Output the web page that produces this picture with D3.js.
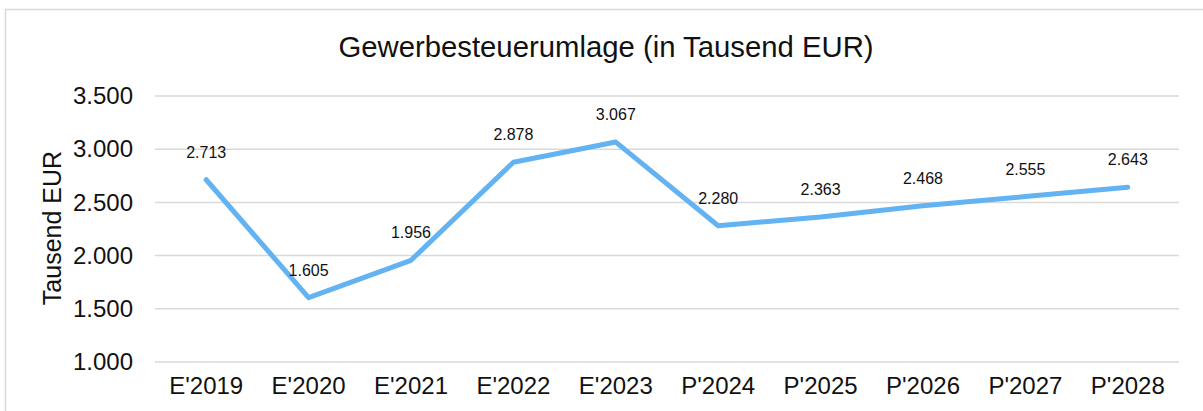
<!DOCTYPE html>
<html>
<head>
<meta charset="utf-8">
<script src="https://cdn.jsdelivr.net/npm/d3@7"></script>
<style>
  body { margin: 0; background: #fff; }
  text { font-family: "Liberation Sans", Arial, sans-serif; }
</style>
</head>
<body>
<svg id="chart" width="1203" height="411"></svg>
<script>
// data
const categories = ["E'2019", "E'2020", "E'2021", "E'2022", "E'2023", "P'2024", "P'2025", "P'2026", "P'2027", "P'2028"];
const values = [2713, 1605, 1956, 2878, 3067, 2280, 2363, 2468, 2555, 2643];
const yTicks = [1000, 1500, 2000, 2500, 3000, 3500];

const chartTitle = "Gewerbesteuerumlage (in Tausend EUR)";
const yTitle = "Tausend EUR";

const svg = d3.select("#chart");
const margin = {top: 96, right: 24, bottom: 49, left: 155};
const width = 1203, height = 411;

const fmt = d3.formatLocale({decimal: ",", thousands: ".", grouping: [3], currency: ["", " €"]}).format(",.0f");

// chart border
svg.append("rect")
  .attr("x", 5.5).attr("y", 9.5)
  .attr("width", 1205).attr("height", 420)
  .attr("fill", "#fff")
  .attr("stroke", "#d9d9d9")
  .attr("stroke-width", 1.5);

const x = d3.scaleBand(categories, [margin.left, width - margin.right]);
const y = d3.scaleLinear([1000, 3500], [height - margin.bottom, margin.top]);

// gridlines
svg.append("g")
  .selectAll("line")
  .data(yTicks)
  .join("line")
    .attr("x1", margin.left)
    .attr("x2", width - margin.right)
    .attr("y1", d => y(d))
    .attr("y2", d => y(d))
    .attr("stroke", "#d9d9d9")
    .attr("stroke-width", 1.5);

// y axis labels
const yAxis = svg.append("g")
  .attr("transform", `translate(${margin.left - 22},0)`)
  .call(d3.axisLeft(y).tickValues(yTicks).tickFormat(fmt).tickSize(0).tickPadding(0));
yAxis.select(".domain").remove();
yAxis.selectAll("text")
  .attr("font-size", 24)
  .attr("font-family", "Liberation Sans, Arial, sans-serif")
  .attr("fill", "#111");

// x axis labels
const xAxis = svg.append("g")
  .attr("transform", `translate(0,${height - margin.bottom})`)
  .call(d3.axisBottom(x).tickSize(0).tickPadding(15));
xAxis.select(".domain").remove();
xAxis.selectAll("text")
  .attr("font-size", 24)
  .attr("font-family", "Liberation Sans, Arial, sans-serif")
  .attr("fill", "#111");

// line
const line = d3.line()
  .x((d, i) => x(categories[i]) + x.bandwidth() / 2)
  .y(d => y(d));

svg.append("path")
  .datum(values)
  .attr("fill", "none")
  .attr("stroke", "#63b3f2")
  .attr("stroke-width", 5)
  .attr("stroke-linejoin", "round")
  .attr("stroke-linecap", "round")
  .attr("d", line);

// data labels
svg.append("g")
  .selectAll("text")
  .data(values)
  .join("text")
    .attr("x", (d, i) => x(categories[i]) + x.bandwidth() / 2)
    .attr("y", d => y(d) - 22)
    .attr("text-anchor", "middle")
    .attr("font-size", 16)
    .attr("fill", "#111")
    .text(d => fmt(d));

// title
svg.append("text")
  .attr("x", 606)
  .attr("y", 57)
  .attr("text-anchor", "middle")
  .attr("font-size", 29.3)
  .attr("fill", "#111")
  .text(chartTitle);

// y title
svg.append("text")
  .attr("transform", `translate(61,${228}) rotate(-90)`)
  .attr("text-anchor", "middle")
  .attr("font-size", 25)
  .attr("fill", "#111")
  .text(yTitle);
</script>
</body>
</html>
